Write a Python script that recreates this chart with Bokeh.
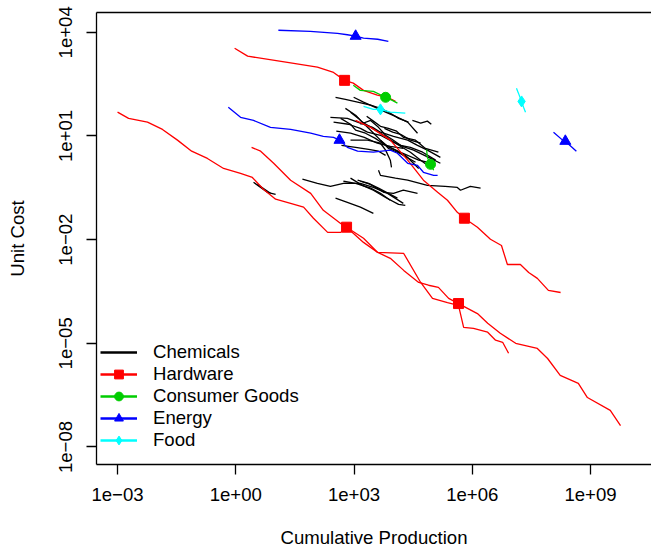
import numpy as np
from bokeh.plotting import figure
from bokeh.models import Range1d, FixedTicker, LogAxis, Legend, LegendItem
from bokeh.embed import file_html
from bokeh.resources import INLINE

# ---------------- data (log10 of cumulative production / unit cost) ----------------
chemicals_log_x = [
    [2.53, 2.78, 3.09, 3.42, 3.67, 3.92, 4.13, 4.38],
    [2.99, 3.24, 3.54, 3.80, 4.05, 4.36, 4.61],
    [4.48, 4.69, 4.86, 4.96],
    [2.40, 2.83, 3.16, 3.47, 3.67, 4.00, 4.36, 4.61, 4.86, 5.19],
    [2.48, 2.86, 3.16, 3.34, 3.67, 4.00, 4.30, 4.51, 4.89, 5.19],
    [2.91, 3.34, 3.67, 3.80, 3.92, 3.95],
    [3.62, 3.67, 4.05, 4.36, 4.86, 5.31, 5.62, 5.70, 5.95, 6.21],
    [2.78, 3.04, 3.21, 3.47, 3.75, 4.05, 4.43, 4.69, 4.94],
    [2.66, 2.91, 3.04, 3.29, 3.54, 3.80, 4.18, 4.64, 4.99],
    [2.91, 3.11, 3.29, 3.47, 3.67, 3.85, 4.05, 4.25, 4.56],
    [2.55, 2.91, 3.26, 3.59, 3.92, 4.25],
    [3.16, 3.42, 3.62, 3.80, 3.97, 4.18, 4.43, 4.74, 5.07],
    [3.32, 3.49, 3.67, 3.87, 4.08, 4.25, 4.56, 4.81, 5.14],
    [3.67, 3.87, 4.10, 4.30, 4.48, 4.64],
    [2.68, 3.04, 3.37, 3.62, 3.80],
    [3.77, 3.98, 4.18, 4.43, 4.69],
    [1.69, 2.07, 2.40, 2.73, 3.16, 3.49, 3.85, 4.25],
    [2.73, 3.04, 3.42, 3.67, 3.92],
    [3.09, 3.37, 3.75, 4.00, 4.25, 4.61],
    [2.53, 2.83, 3.16, 3.49],
    [2.91, 3.21, 3.49, 3.80, 4.13, 4.30],
    [3.16, 3.42, 3.62, 3.87, 4.10],
    [0.45, 0.63, 0.80, 1.01],
    [0.55, 0.73, 0.88],
]
chemicals_log_y = [
    [2.12, 2.06, 1.98, 1.89, 1.80, 1.66, 1.51, 1.40],
    [2.12, 1.98, 1.83, 1.69, 1.57, 1.40, 1.08],
    [1.45, 1.37, 1.43, 1.34],
    [1.54, 1.51, 1.37, 1.25, 1.11, 0.99, 0.88, 0.73, 0.59, 0.38],
    [1.40, 1.34, 1.22, 1.11, 1.02, 0.82, 0.67, 0.59, 0.38, 0.21],
    [0.88, 0.88, 0.79, 0.59, 0.30, 0.09],
    [0.01, -0.14, -0.22, -0.28, -0.43, -0.46, -0.49, -0.57, -0.46, -0.51],
    [1.80, 1.60, 1.40, 1.22, 1.02, 0.79, 0.53, 0.30, 0.09],
    [1.51, 1.34, 1.17, 1.08, 0.93, 0.73, 0.53, 0.30, 0.21],
    [1.69, 1.51, 1.31, 1.11, 0.88, 0.70, 0.59, 0.44, 0.24],
    [1.14, 1.08, 0.96, 0.79, 0.70, 0.64],
    [1.34, 1.45, 1.25, 1.02, 0.90, 0.73, 0.67, 0.53, 0.30],
    [1.57, 1.43, 1.28, 1.22, 1.14, 0.96, 0.88, 0.64, 0.53],
    [0.88, 0.64, 0.53, 0.44, 0.24, 0.06],
    [0.73, 0.67, 0.61, 0.56, 0.44],
    [1.22, 1.11, 1.05, 0.88, 0.79],
    [-0.25, -0.37, -0.46, -0.37, -0.37, -0.49, -0.66, -0.95],
    [-0.31, -0.37, -0.51, -0.66, -0.86],
    [-0.28, -0.37, -0.63, -0.66, -0.57, -0.66],
    [-0.80, -0.92, -1.06, -1.24],
    [-0.22, -0.43, -0.57, -0.78, -0.98, -1.01],
    [-0.31, -0.40, -0.51, -0.66, -0.80],
    [-0.34, -0.49, -0.63, -0.69],
    [-0.40, -0.54, -0.66],
]

hardware_log_x = [
    [-3.00, -2.72, -2.24, -1.86, -1.48, -1.12, -0.72, -0.31, 0.12, 0.42, 0.70, 1.01, 1.39, 1.72, 1.97,
     2.33, 2.66, 2.81, 3.24, 3.60, 4.26, 4.69, 4.99, 5.37, 5.65, 5.78, 6.03, 6.39, 6.59, 6.77, 6.92],
    [0.40, 0.63, 0.96, 1.39, 1.90, 2.22, 2.66, 2.81, 3.24, 3.60, 3.92, 4.26, 4.64, 4.89, 5.14,
     5.40, 5.65, 6.13, 6.39, 6.71, 7.10, 7.65, 7.91, 8.23, 8.69, 8.92, 9.50, 9.76],
    [-0.03, 0.30, 1.31, 2.07, 2.48, 2.76, 2.98, 3.24, 3.59, 3.85, 4.05],
    [3.04, 3.42, 3.92, 4.36, 4.76, 5.12, 5.37, 5.62, 5.80, 6.13, 6.46, 6.74, 6.89, 7.22, 7.43, 7.65, 7.93, 8.24],
]
hardware_log_y = [
    [1.69, 1.51, 1.40, 1.19, 0.88, 0.56, 0.35, 0.06, -0.08, -0.20, -0.54, -0.83, -0.95, -1.06, -1.38,
     -1.79, -1.79, -1.64, -1.96, -2.37, -2.40, -3.24, -3.70, -3.82, -3.90, -4.54, -4.57, -4.68, -4.91, -4.97, -5.29],
    [0.67, 0.56, 0.21, -0.28, -0.66, -1.15, -1.53, -1.64, -2.08, -2.37, -2.54, -2.89, -3.24, -3.32, -3.38,
     -3.70, -3.85, -4.14, -4.42, -4.71, -5.00, -5.15, -5.44, -5.93, -6.16, -6.57, -6.94, -7.38],
    [3.54, 3.31, 3.13, 2.99, 2.84, 2.61, 2.53, 2.32, 2.18, 2.12, 2.00],
    [1.45, 1.25, 0.88, 0.30, -0.28, -0.63, -0.86, -1.21, -1.38, -1.64, -1.99, -2.17, -2.72, -2.72, -2.95, -3.12, -3.47, -3.53],
]
hardware_marker_index = [17, 16, 5, 8]

consumer_log_x = [
    [2.98, 3.16, 3.49, 3.80, 3.97, 4.10],
    [4.84, 4.86, 4.94, 5.02],
]
consumer_log_y = [
    [2.47, 2.32, 2.29, 2.12, 2.03, 1.95],
    [0.61, 0.38, 0.18, 0.01],
]
consumer_marker_index = [3, 2]

energy_log_x = [
    [1.08, 1.89, 2.58, 2.83, 3.04, 3.24, 3.60, 3.87],
    [-0.19, 0.12, 0.45, 0.88, 1.39, 1.90, 2.22, 2.48, 2.63, 2.83, 3.09, 3.49, 3.92, 4.10, 4.36, 4.61, 4.76, 5.02, 5.12],
    [8.06, 8.29, 8.36, 8.64],
]
energy_log_y = [
    [4.06, 4.03, 3.97, 3.93, 3.89, 3.83, 3.80, 3.74],
    [1.83, 1.54, 1.45, 1.25, 1.19, 1.08, 0.99, 0.96, 0.88, 0.67, 0.56, 0.53, 0.59, 0.50, 0.21, 0.15, -0.05, -0.14, -0.14],
    [1.11, 0.88, 0.85, 0.56],
]
energy_marker_index = [4, 8, 2]

food_log_x = [
    [3.24, 3.49, 3.67, 3.92, 4.30],
    [7.12, 7.17, 7.25, 7.30, 7.35],
]
food_log_y = [
    [1.86, 1.77, 1.77, 1.69, 1.66],
    [2.38, 2.24, 2.00, 1.83, 1.69],
]
food_marker_index = [2, 2]

category_names = ["Chemicals", "Hardware", "Consumer Goods", "Energy", "Food"]

x_tick_values = [1e-3, 1e0, 1e3, 1e6, 1e9]
x_tick_labels = ["1e\u221203", "1e+00", "1e+03", "1e+06", "1e+09"]
y_tick_values = [1e-8, 1e-5, 1e-2, 1e1, 1e4]
y_tick_labels = ["1e\u221208", "1e\u221205", "1e\u221202", "1e+01", "1e+04"]
x_title = "Cumulative Production"
y_title = "Unit Cost"

# ---------------- styling ----------------
FONT = "Liberation Sans"
FS = "18.6px"
LW = 1.3

p = figure(width=651, height=552, x_axis_type="log", y_axis_type="log",
           x_range=Range1d(10 ** -3.534, 10 ** 10.546),
           y_range=Range1d(10 ** -8.508, 10 ** 4.574),
           output_backend="svg", toolbar_location=None,
           min_border_left=96, min_border_right=0, min_border_top=12, min_border_bottom=88)
p.outline_line_color = None
p.grid.visible = False
p.background_fill_color = "white"
p.border_fill_color = "white"

xa = p.below[0]
ya = p.left[0]

# top frame line (plain line, no ticks)
top_axis = LogAxis(ticker=FixedTicker(ticks=[]), major_label_text_font_size="0px",
                   major_tick_out=0, major_tick_in=0, minor_tick_out=0, minor_tick_in=0,
                   major_label_standoff=0, axis_line_width=LW, axis_line_color="black")
p.add_layout(top_axis, "above")

xa.ticker = FixedTicker(ticks=x_tick_values)
ya.ticker = FixedTicker(ticks=y_tick_values)
xa.major_label_overrides = dict(zip(x_tick_values, x_tick_labels))
ya.major_label_overrides = dict(zip(y_tick_values, y_tick_labels))
for ax in (xa, ya):
    ax.major_tick_out = 10
    ax.major_tick_in = 0
    ax.minor_tick_line_color = None
    ax.axis_line_width = LW
    ax.axis_line_color = "black"
    ax.major_tick_line_width = LW
    ax.major_tick_line_color = "black"
    ax.major_label_text_font = FONT
    ax.major_label_text_font_size = FS
    ax.major_label_text_color = "black"
    ax.axis_label_text_font = FONT
    ax.axis_label_text_font_size = FS
    ax.axis_label_text_font_style = "normal"
    ax.axis_label_text_color = "black"
xa.axis_label = x_title
ya.axis_label = y_title
ya.major_label_orientation = "vertical"
xa.major_label_standoff = 13
xa.axis_label_standoff = 23
ya.major_label_standoff = 14
ya.axis_label_standoff = 29

colors = ["black", "#FF0000", "#00CD00", "#0000FF", "#00FFFF"]
markers = [None, "square", "circle", "triangle", "diamond"]
marker_sizes = [0, 10, 10, 11, 11]

groups = [
    (chemicals_log_x, chemicals_log_y, None),
    (hardware_log_x, hardware_log_y, hardware_marker_index),
    (consumer_log_x, consumer_log_y, consumer_marker_index),
    (energy_log_x, energy_log_y, energy_marker_index),
    (food_log_x, food_log_y, food_marker_index),
]

legend_items = []
for (lxs, lys, midx), name, col, mk, ms in zip(groups, category_names, colors, markers, marker_sizes):
    xs = [list(np.power(10.0, np.array(c))) for c in lxs]
    ys = [list(np.power(10.0, np.array(c))) for c in lys]
    p.multi_line(xs=xs, ys=ys, line_color=col, line_width=LW)
    if midx is not None:
        mx = [xs[i][k] for i, k in enumerate(midx)]
        my = [ys[i][k] for i, k in enumerate(midx)]
        p.scatter(x=mx, y=my, marker=mk, size=ms, fill_color=col, line_color=col)
    # legend proxies: thicker line + marker, hidden on the plot
    lr = p.line(x=xs[0], y=ys[0], line_color=col, line_width=2.5, visible=False)
    rs = [lr]
    if mk is not None:
        sr = p.scatter(x=xs[0], y=ys[0], marker=mk, fill_color=col, line_color=col, visible=False)
        rs.append(sr)
    legend_items.append(LegendItem(label=name, renderers=rs))

legend = Legend(items=legend_items, location=(4, 13),
                border_line_color=None, background_fill_alpha=0,
                padding=0, margin=0, spacing=0,
                glyph_width=37, glyph_height=22, label_height=22,
                label_standoff=16, label_text_font=FONT, label_text_font_size=FS,
                label_text_color="black")
p.add_layout(legend)

open("out.html", "w").write(file_html(p, INLINE))
